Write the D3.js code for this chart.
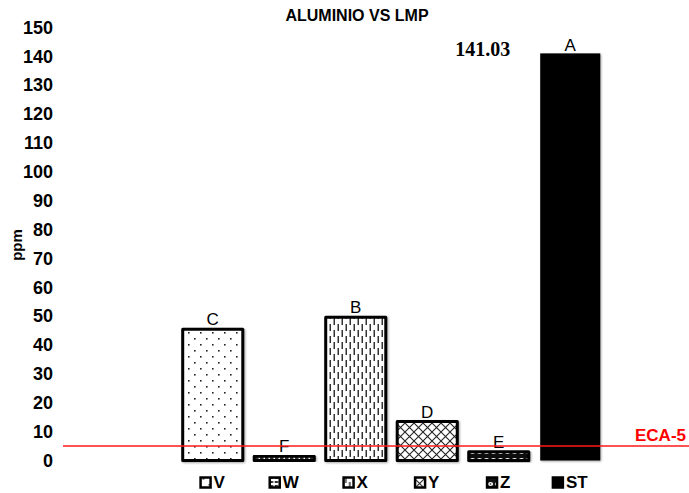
<!DOCTYPE html>
<html><head><meta charset="utf-8">
<script src="https://cdn.jsdelivr.net/npm/d3@7/dist/d3.min.js"></script>
<style>
html,body{margin:0;padding:0;background:#fff;}
svg{display:block;font-family:"Liberation Sans",Arial,sans-serif;}
</style></head>
<body>
<svg id="chart" width="689" height="493"></svg>
<script>
// ---- data ----
const categories = ["V","W","X","Y","Z","ST"];
const values = [45.5, 1.5, 49.6, 13.5, 3.0, 141.03];
const barLetters = ["C","F","B","D","E","A"];
const patterns = ["pDots","pHdash","pVdash","pCross","pChain","pSolid"];
const yTicks = [0,10,20,30,40,50,60,70,80,90,100,110,120,130,140,150];
const limitValue = 5;
const limitLabel = "ECA-5";
const highlightLabel = "141.03";
const chartTitle = "ALUMINIO VS LMP";
const yTitle = "ppm";

const svg = d3.select("#chart");

// ---- patterns ----
const defs = svg.append("defs");
const f = defs.append("filter").attr("id","shadow").attr("x","-20%").attr("y","-20%").attr("width","140%").attr("height","140%");
f.append("feGaussianBlur").attr("in","SourceAlpha").attr("stdDeviation",1.2).attr("result","b");
f.append("feOffset").attr("in","b").attr("dx",1).attr("dy",1).attr("result","o");
f.append("feComponentTransfer").attr("in","o").attr("result","o2").append("feFuncA").attr("type","linear").attr("slope",0.35);
const m = f.append("feMerge"); m.append("feMergeNode").attr("in","o2"); m.append("feMergeNode").attr("in","SourceGraphic");

let p = defs.append("pattern").attr("id","pDots").attr("patternUnits","userSpaceOnUse").attr("width",12).attr("height",12);
p.append("rect").attr("width",12).attr("height",12).attr("fill","#fff");
p.append("rect").attr("x",2).attr("y",2).attr("width",1.6).attr("height",1.6).attr("fill","#222");
p.append("rect").attr("x",8).attr("y",8).attr("width",1.6).attr("height",1.6).attr("fill","#222");

p = defs.append("pattern").attr("id","pVdash").attr("patternUnits","userSpaceOnUse").attr("width",8).attr("height",12);
p.append("rect").attr("width",8).attr("height",12).attr("fill","#fff");
p.append("rect").attr("x",1.5).attr("y",0).attr("width",1.5).attr("height",7).attr("fill","#333");
p.append("rect").attr("x",5.5).attr("y",6).attr("width",1.5).attr("height",7).attr("fill","#333");
p.append("rect").attr("x",5.5).attr("y",-6).attr("width",1.5).attr("height",7).attr("fill","#333");

p = defs.append("pattern").attr("id","pHdash").attr("patternUnits","userSpaceOnUse").attr("width",5).attr("height",4);
p.append("rect").attr("width",5).attr("height",4).attr("fill","#fff");
p.append("rect").attr("x",0).attr("y",1).attr("width",3.5).attr("height",2).attr("fill","#333");

p = defs.append("pattern").attr("id","pCross").attr("patternUnits","userSpaceOnUse").attr("width",9).attr("height",9);
p.append("rect").attr("width",9).attr("height",9).attr("fill","#fff");
p.append("path").attr("d","M0,0L9,9M9,0L0,9").attr("stroke","#222").attr("stroke-width",1.1);

p = defs.append("pattern").attr("id","pChain").attr("patternUnits","userSpaceOnUse").attr("width",7).attr("height",8);
p.append("rect").attr("width",7).attr("height",8).attr("fill","#111");
p.append("ellipse").attr("cx",3.5).attr("cy",4).attr("rx",2.6).attr("ry",2).attr("fill","#fff");
p.append("circle").attr("cx",3.5).attr("cy",4).attr("r",0.8).attr("fill","#111");

p = defs.append("pattern").attr("id","pSolid").attr("patternUnits","userSpaceOnUse").attr("width",4).attr("height",4);
p.append("rect").attr("width",4).attr("height",4).attr("fill","#000");

// ---- scales ----
const x = d3.scaleBand().domain(categories).range([177,606]).paddingInner(0.16).paddingOuter(0.08);
const y = d3.scaleLinear().domain([0,150]).range([460.5,27.5]);

// ---- title ----
svg.append("text").attr("x",357).attr("y",21).attr("text-anchor","middle")
  .attr("font-size",16).attr("font-weight","bold").attr("fill","#000").text(chartTitle);

// ---- y axis ----
const ya = svg.append("g").attr("transform","translate(62,0)")
  .call(d3.axisLeft(y).tickValues(yTicks).tickSize(0).tickPadding(9));
ya.select(".domain").remove();
ya.attr("font-family",null);
ya.selectAll("text").attr("font-size",18).attr("font-weight","bold").attr("fill","#000");

svg.append("text").attr("transform","translate(22,245) rotate(-90)").attr("text-anchor","middle")
  .attr("font-size",15).attr("font-weight","bold").attr("fill","#000").text(yTitle);

// ---- bars ----
const data = categories.map((c,i)=>({c, v:values[i], l:barLetters[i], p:patterns[i]}));
const g = svg.append("g");
g.selectAll("rect.bar").data(data).join("rect").attr("class","bar")
  .attr("x",d=>x(d.c)).attr("width",x.bandwidth())
  .attr("y",d=>y(d.v)).attr("height",d=>y(0)-y(d.v))
  .attr("fill",d=>`url(#${d.p})`).attr("stroke","#000")
  .attr("stroke-width",d=>d.c==="ST"?0:3).attr("stroke-linejoin","round")
  .attr("filter","url(#shadow)");

g.selectAll("text.lbl").data(data).join("text").attr("class","lbl")
  .attr("x",d=>x(d.c)+x.bandwidth()/2).attr("y",d=>y(d.v)-(d.c==="ST"?2:4))
  .attr("text-anchor","middle").attr("font-size",17).attr("fill","#000").text(d=>d.l);

// highlight value
const st = data[data.length-1];
svg.append("text").attr("x",x(st.c)-30).attr("y",y(st.v)+3).attr("text-anchor","end")
  .style("font-family","'Liberation Serif','Times New Roman',serif")
  .attr("font-size",20).attr("font-weight","bold").attr("fill","#000").text(highlightLabel);

// ---- limit line ----
svg.append("line").attr("x1",63).attr("x2",689).attr("y1",y(limitValue)).attr("y2",y(limitValue))
  .attr("stroke","#ff1a1a").attr("stroke-width",1.6);
svg.append("text").attr("x",686).attr("y",y(limitValue)-5).attr("text-anchor","end")
  .attr("font-size",17).attr("font-weight","bold").attr("fill","#ff0000").text(limitLabel);

// ---- legend ----
const lg = svg.append("g");
data.forEach(d=>{
  const it = lg.append("g");
  it.append("rect").attr("x",0).attr("y",-10.5).attr("width",10).attr("height",10)
    .attr("fill",`url(#${d.p})`).attr("stroke","#000").attr("stroke-width",2.5);
  const t = it.append("text").attr("x",13).attr("y",0).attr("font-size",17).attr("font-weight","bold")
    .attr("fill","#000").text(d.c);
  const w = 13 + t.node().getComputedTextLength();
  it.attr("transform",`translate(${x(d.c)+x.bandwidth()/2 - w/2},488)`);
});
</script>
</body></html>
